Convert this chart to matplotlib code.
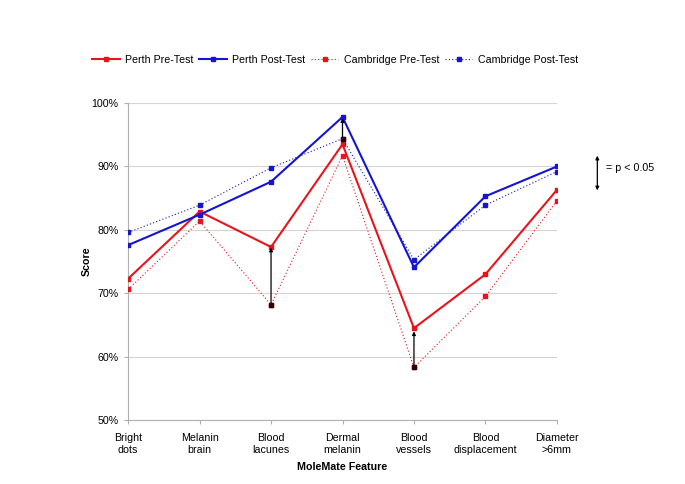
import matplotlib
matplotlib.use('Agg')
import matplotlib.pyplot as plt
from matplotlib.ticker import PercentFormatter

plt.rcParams['font.family'] = ['Liberation Sans', 'DejaVu Sans']

features = ['Bright\ndots', 'Melanin\nbrain', 'Blood\nlacunes', 'Dermal\nmelanin',
            'Blood\nvessels', 'Blood\ndisplacement', 'Diameter\n>6mm']
perth_pre = [72.3, 82.9, 77.3, 93.5, 64.5, 73.0, 86.3]
perth_post = [77.6, 82.4, 87.6, 97.8, 74.1, 85.3, 90.0]
cam_pre = [70.6, 81.4, 68.2, 91.7, 58.3, 69.5, 84.6]
cam_post = [79.6, 83.9, 89.8, 94.4, 75.3, 83.9, 89.2]

# significant differences (feature index, from, to)
sig_idx = [2, 3, 4]
sig_from = [68.2, 94.4, 58.3]
sig_to = [77.2, 97.6, 64.0]

RED = '#e8141c'
BLUE = '#1414d2'
FS = 7.7

fig = plt.figure(figsize=(6.85, 4.84), dpi=100)
ax = fig.add_axes([0.187, 0.132, 0.626, 0.655])

x = list(range(len(features)))
ax.plot(x, perth_pre, color=RED, lw=1.5, marker='s', ms=3.5, label='Perth Pre-Test', zorder=3)
ax.plot(x, perth_post, color=BLUE, lw=1.5, marker='s', ms=3.5, label='Perth Post-Test', zorder=3)
ax.plot(x, cam_pre, color=RED, lw=0.8, ls=(0, (1, 2)), marker='s', ms=3.5, label='Cambridge Pre-Test', zorder=3)
ax.plot(x, cam_post, color=BLUE, lw=0.8, ls=(0, (1, 2)), marker='s', ms=3.5, label='Cambridge Post-Test', zorder=3)

for i, a, b in zip(sig_idx, sig_from, sig_to):
    ax.annotate('', xy=(i, b), xytext=(i, a),
                arrowprops=dict(arrowstyle='-|>', color='black', lw=0.9,
                                mutation_scale=5, shrinkA=0, shrinkB=0), zorder=4)
    ax.plot(i, a, marker='s', ms=2.5, color='#300000', zorder=5)

ax.set_xlim(0, 6)
ax.set_ylim(50, 100)
ax.set_yticks(range(50, 101, 10))
ax.yaxis.set_major_formatter(PercentFormatter(decimals=0))
ax.set_xticks(x)
ax.set_xticklabels(features, fontsize=FS, linespacing=1.3)
ax.tick_params(axis='y', labelsize=FS, length=3, color='#b0b0b0', pad=4)
ax.tick_params(axis='x', length=3, color='#b0b0b0', pad=6)
ax.grid(axis='y', color='#d4d4d4', lw=0.8)
ax.set_axisbelow(True)
for s in ['top', 'right']:
    ax.spines[s].set_visible(False)
for s in ['left', 'bottom']:
    ax.spines[s].set_color('#b0b0b0')

ax.set_ylabel('Score', fontsize=FS, fontweight='bold', labelpad=0)
ax.set_xlabel('MoleMate Feature', fontsize=FS, fontweight='bold', labelpad=5)

fig.legend(loc='center', bbox_to_anchor=(0.489, 0.877), ncol=4, frameon=False,
           fontsize=FS, handlelength=2.6, columnspacing=0.5, handletextpad=0.5)

# key for significance arrow
fig.add_artist(matplotlib.patches.FancyArrowPatch(
    (0.872, 0.601), (0.872, 0.684), transform=fig.transFigure,
    arrowstyle='<|-|>', mutation_scale=5, color='black', lw=0.9))
fig.text(0.885, 0.652, '= p < 0.05', fontsize=FS, va='center')

fig.savefig('out.png', dpi=100)
